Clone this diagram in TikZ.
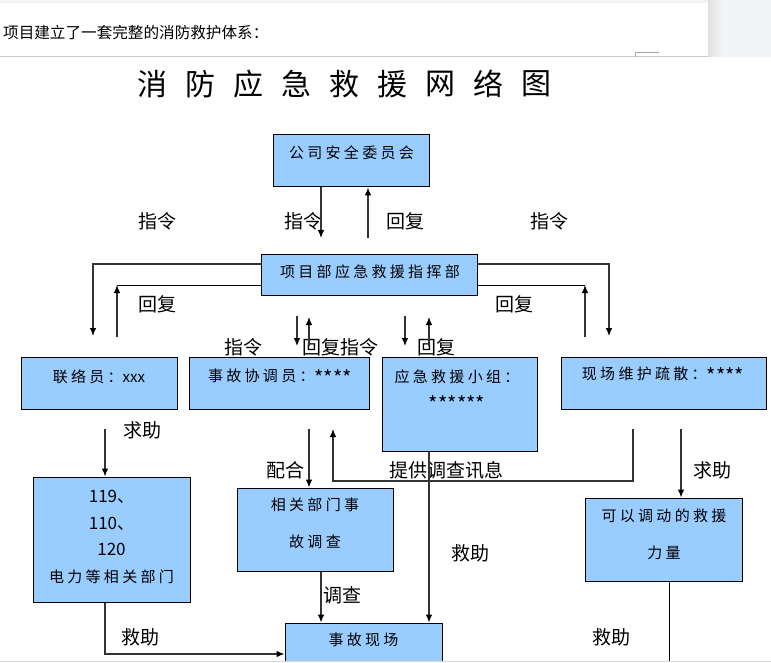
\documentclass[tikz,border=0pt]{standalone}
\usepackage{fontspec}
\setmainfont{Noto Sans CJK SC}
\newfontfamily\boxfont[LetterSpace=22]{Noto Sans CJK SC}
\newfontfamily\numfont{Noto Sans CJK SC}
\usetikzlibrary{arrows.meta}
\definecolor{boxblue}{RGB}{153,204,255}
\definecolor{panelgray}{RGB}{243,244,246}
\newcommand{\plain}[1]{{\numfont #1}}
\newcommand{\stars}[1]{\raisebox{-4pt}{\numfont\fontsize{20}{18}\selectfont #1}}
\tikzset{box/.style={draw=black, line width=1pt, fill=boxblue, inner sep=0pt},
    boxtext/.style={font=\boxfont\fontsize{15}{18}\selectfont, align=center, inner sep=0pt},
    lbl/.style={font=\fontsize{19}{22}\selectfont, inner sep=0pt},
    titlechar/.style={font=\fontsize{30}{34}\selectfont, inner sep=0pt},
    arr/.style={->, draw=black!80, line width=1.1pt},
    wire/.style={draw=black, line width=1pt},
    >={Latex[length=8pt,width=6.5pt,color=black]},
    }

\begin{document}
\begin{tikzpicture}[x=1pt,y=-1pt]
	\useasboundingbox (0,0) rectangle (771,663);
	% page around the figure
	\fill[black!5] (0,0) rectangle (771,3);
	\fill[panelgray] (708,0) rectangle (771,57);
	\shade[left color=black!12, right color=panelgray] (708,0) rectangle (722,57);
	\draw[black!20, line width=1pt] (0,57) -- (708,57);
	\draw[black!35, line width=0.8pt] (635,57) -- (635,52) -- (659,52);
	\node[anchor=west, font=\fontsize{15.6}{18}\selectfont, inner sep=0pt] (intro) at (3,33) {项目建立了一套完整的消防救护体系：};

	% title
	\foreach \zi [count=\i] in {消,防,应,急,救,援,网,络,图}
		\node[titlechar] (title\i) at ({152+48*(\i-1)},84) {\zi};

	% boxes
	\node[box, minimum width=156pt, minimum height=52pt] (anquan) at (351.5,161) {};
	\node[box, minimum width=216pt, minimum height=41pt] (zhihui) at (369,274.5) {};
	\node[box, minimum width=156pt, minimum height=52pt] (lianluo) at (99,383) {};
	\node[box, minimum width=180pt, minimum height=52pt] (xietiao) at (279,383) {};
	\node[box, minimum width=155pt, minimum height=94pt] (xiaozu) at (459.5,404) {};
	\node[box, minimum width=205pt, minimum height=52pt] (weihu) at (663.5,383) {};
	\node[box, minimum width=157pt, minimum height=125pt] (jiuyuan) at (111.5,539.5) {};
	\node[box, minimum width=156pt, minimum height=83pt] (diaocha) at (315,529.5) {};
	\node[box, minimum width=157pt, minimum height=57pt] (xianchang) at (363.5,651.5) {};
	\node[box, minimum width=157pt, minimum height=83pt] (liliang) at (663.5,539.5) {};

	\node[boxtext] (anquanT) at (351.5,153) {公司安全委员会};
	\node[boxtext] (zhihuiT) at (370,272) {项目部应急救援指挥部};
	\node[boxtext] (lianluoT) at (99,377) {联络员：\plain{xxx}};
	\node[boxtext] (xietiaoT) at (280,377) {事故协调员：\stars{****}};
	\node[boxtext] (xiaozuT) at (457,390.5) {应急救援小组：\\[7pt]\stars{******}};
	\node[boxtext] (weihuT) at (663,375) {现场维护疏散：\stars{****}};
	\node[boxtext] (jiuyuanT) at (111.5,537) {{\numfont\fontsize{17}{18}\selectfont 119、}\\[8.7pt]{\numfont\fontsize{17}{18}\selectfont 110、}\\[8.7pt]{\numfont\fontsize{17}{18}\selectfont 120}\\[8.7pt]电力等相关部门};
	\node[boxtext] (diaochaT) at (315,523.5) {相关部门事\\[19pt]故调查};
	\node[boxtext] (xianchangT) at (363.5,640) {事故现场};
	\node[boxtext] (liliangT) at (664,534.5) {可以调动的救援\\[19pt]力量};

	% labels
	\node[lbl] (zl1) at (157,221) {指令};
	\node[lbl] (zl2) at (303,221) {指令};
	\node[lbl] (hf1) at (405,221) {回复};
	\node[lbl] (zl3) at (549,221) {指令};
	\node[lbl] (hf2) at (157,304) {回复};
	\node[lbl] (hf3) at (514,304) {回复};
	\node[lbl] (zl4) at (243,347) {指令};
	\node[lbl] (hfzl) at (340,347) {回复指令};
	\node[lbl] (hf4) at (436,347) {回复};
	\node[lbl] (qz1) at (142,430) {求助};
	\node[lbl] (ph) at (285,470) {配合};
	\node[lbl] (tg) at (446,470) {提供调查讯息};
	\node[lbl] (qz2) at (712,470) {求助};
	\node[lbl] (jz1) at (470,553) {救助};
	\node[lbl] (dc) at (342,595) {调查};
	\node[lbl] (jz2) at (140,637) {救助};
	\node[lbl] (jz3) at (611,637) {救助};

	% connectors
	\coordinate (a1) at (321,238);
	\coordinate (a2) at (368,238);
	\draw[arr] (anquan.south -| a1) -- (a1);
	\draw[arr] (a2) -- (a2 |- anquan.south);

	\coordinate (b1) at (93,336);
	\coordinate (b2) at (117,337);
	\coordinate (b3) at (117,285);
	\draw[arr] ([yshift=10.5pt]zhihui.west) -| (b1);
	\draw[arr] (b2) -- (b3);
	\draw[wire] (b3) -- (b3 -| zhihui.west);

	\coordinate (c1) at (609,336);
	\coordinate (c2) at (585,337);
	\coordinate (c3) at (585,285);
	\draw[arr] ([yshift=10.5pt]zhihui.east) -| (c1);
	\draw[arr] (c2) -- (c3);
	\draw[wire] (c3) -- (c3 -| zhihui.east);

	\draw[arr] (297,316) -- (297,346);
	\draw[arr] (309,346) -- (309,317);
	\draw[arr] (405,316) -- (405,346);
	\draw[arr] (429,346) -- (429,317);

	\coordinate (d1) at (105,429);
	\draw[arr] (d1) -- (d1 |- jiuyuan.north);
	\coordinate (d2) at (309,429);
	\draw[arr] (d2) -- (d2 |- diaocha.north);
	\coordinate (d3) at (633,429);
	\coordinate (d4) at (333,429);
	\draw[arr] (d3) -- ++(0,52) -| (d4);
	\coordinate (d5) at ([xshift=-30.5pt]xiaozu.south);
	\draw[arr] (d5) -- (d5 |- xianchang.north);
	\coordinate (d6) at (681,429);
	\draw[arr] (d6) -- (d6 |- liliang.north);
	\coordinate (d7) at ([xshift=6pt]diaocha.south);
	\draw[arr] (d7) -- (d7 |- xianchang.north);
	\coordinate (d8) at ([xshift=-6.5pt]jiuyuan.south);
	\draw[arr] (d8) |- ([yshift=-2.5pt]xianchang.west);
	\coordinate (d9) at ([xshift=5.5pt]liliang.south);
	\draw[wire] (d9) -- ++(0,90);

	% lower edge of the page
	\fill[white] (0,661.5) rectangle (771,700);
	\draw[black!15, line width=1pt] (0,661) -- (771,661);
\end{tikzpicture}
\end{document}
